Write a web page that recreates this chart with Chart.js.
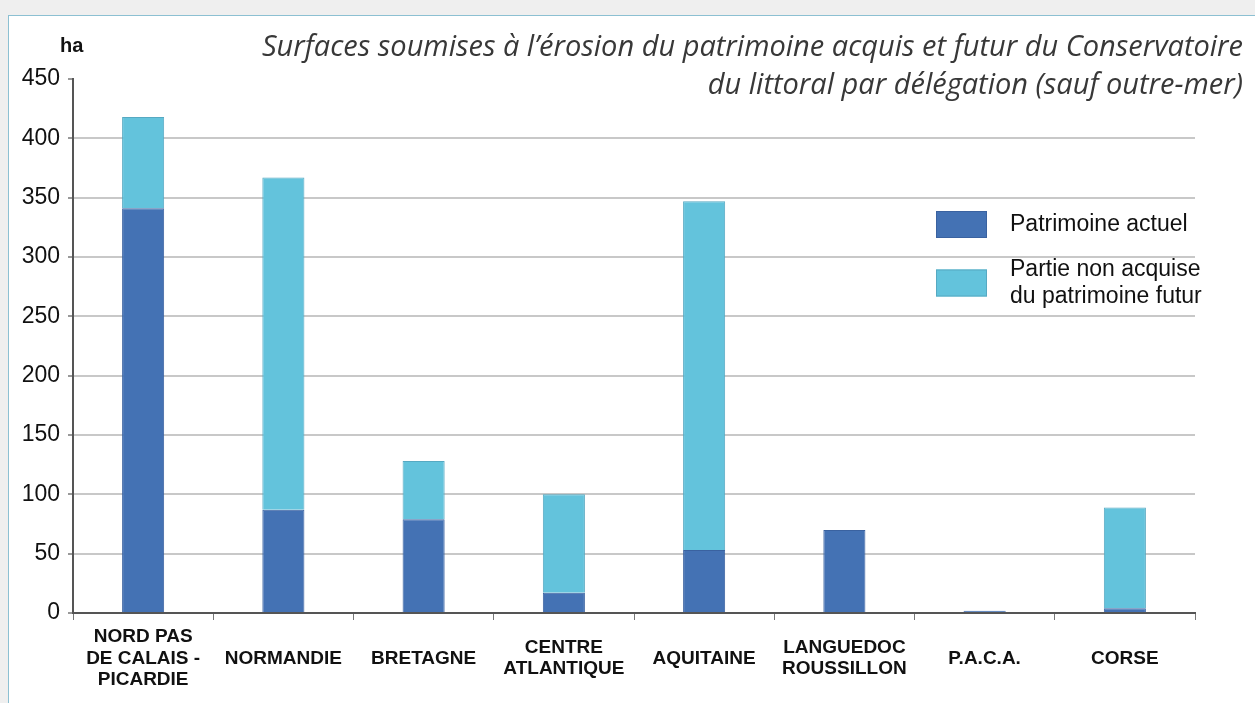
<!DOCTYPE html>
<html lang="fr">
<head>
<meta charset="utf-8">
<title>Surfaces soumises à l’érosion</title>
<script src="https://cdn.jsdelivr.net/npm/chart.js@4/dist/chart.umd.min.js"></script>
<style>
  html, body { margin: 0; padding: 0; background: #efefef; width: 1255px; height: 703px; overflow: hidden; }
  #panel { position: absolute; left: 8px; top: 15px; width: 1260px; height: 700px; background: #fff; border: 1px solid #8cc0d2; }
  #titre { position: absolute; right: 12px; top: 26px; text-align: right; font-family: "Open Sans", sans-serif; font-style: italic; font-size: 29px; line-height: 38px; color: #383838; white-space: nowrap; }
  #myChart { position: absolute; left: 0; top: 0; }
</style>
</head>
<body>
<div id="panel"></div>
<canvas id="myChart" width="1255" height="703"></canvas>
<div id="titre">Surfaces soumises à l’érosion du patrimoine acquis et futur du Conservatoire<br>du littoral par délégation (sauf outre-mer)</div>
<script>
const delegations = [
  ["NORD PAS", "DE CALAIS -", "PICARDIE"],
  "NORMANDIE",
  "BRETAGNE",
  ["CENTRE", "ATLANTIQUE"],
  "AQUITAINE",
  ["LANGUEDOC", "ROUSSILLON"],
  "P.A.C.A.",
  "CORSE",
];
const patrimoineActuel = [341, 87, 79, 17, 53, 70, 2, 4];
const partieNonAcquise = [77, 280, 49, 83, 294, 0, 0, 85];
const yMin = 0;
const yMax = 450;
const yPas = 50;

const myChart = document.getElementById("myChart");

// legende + unite "ha" dessinees a la main
const legendePerso = {
  id: "legendePerso",
  afterDraw(chart) {
    const ctx = chart.ctx;
    ctx.save();
    ctx.font = "bold 20px 'Liberation Sans', Arial, sans-serif";
    ctx.fillStyle = "#111";
    ctx.textBaseline = "middle";
    ctx.textAlign = "left";
    ctx.fillText("ha", 60, 46);

    const centres = [224.5, 283];
    ctx.font = "23px 'Liberation Sans', Arial, sans-serif";
    chart.data.datasets.forEach((ds, i) => {
      const cy = centres[i];
      ctx.fillStyle = ds.backgroundColor;
      ctx.fillRect(936, cy - 13.5, 51, 27);
      ctx.strokeStyle = ds.borderColor;
      ctx.lineWidth = 1;
      ctx.strokeRect(936.5, cy - 13, 50, 26);
      const lignes = ds.label.split("\n");
      ctx.fillStyle = "#111";
      lignes.forEach((l, j) => {
        ctx.fillText(l, 1010, cy + (j - (lignes.length - 1) / 2) * 27);
      });
    });
    ctx.restore();
  },
};

new Chart(myChart, {
  type: "bar",
  data: {
    labels: delegations,
    datasets: [
      {
        label: "Patrimoine actuel",
        data: patrimoineActuel,
        backgroundColor: "#4472b4",
        borderColor: "#3a62a0",
        borderWidth: 1,
      },
      {
        label: "Partie non acquise\ndu patrimoine futur",
        data: partieNonAcquise,
        backgroundColor: "#63c3dc",
        borderColor: "#56a9c2",
        borderWidth: 1,
      },
    ],
  },
  options: {
    responsive: false,
    animation: false,
    layout: { padding: { left: 0, top: 79, right: 60, bottom: 0 } },
    plugins: {
      legend: { display: false },
      title: { display: false },
      tooltip: { enabled: false },
    },
    datasets: {
      bar: { categoryPercentage: 1, barPercentage: 0.3 },
    },
    scales: {
      x: {
        stacked: true,
        afterFit: (scale) => { scale.height = 90; },
        grid: {
          offset: true,
          drawOnChartArea: false,
          drawTicks: true,
          tickLength: 7,
          tickColor: "#777",
        },
        border: { color: "#555", width: 2 },
        ticks: {
          color: "#111",
          padding: 17,
          crossAlign: "center",
          maxRotation: 0,
          autoSkip: false,
          font: { family: "'Liberation Sans', Arial, sans-serif", size: 19, weight: "bold", lineHeight: 1.13 },
        },
      },
      y: {
        stacked: true,
        min: yMin,
        max: yMax,
        afterFit: (scale) => { scale.width = 73; },
        grid: {
          color: (c) => (c.tick && c.tick.value === yMax ? "rgba(0,0,0,0)" : "#c8c8c8"),
          lineWidth: 2,
          tickLength: 5,
          tickColor: "#999",
        },
        border: { color: "#555", width: 2 },
        ticks: {
          stepSize: yPas,
          color: "#111",
          padding: 8,
          font: { family: "'Liberation Sans', Arial, sans-serif", size: 23 },
        },
      },
    },
  },
  plugins: [legendePerso],
});
</script>
</body>
</html>
